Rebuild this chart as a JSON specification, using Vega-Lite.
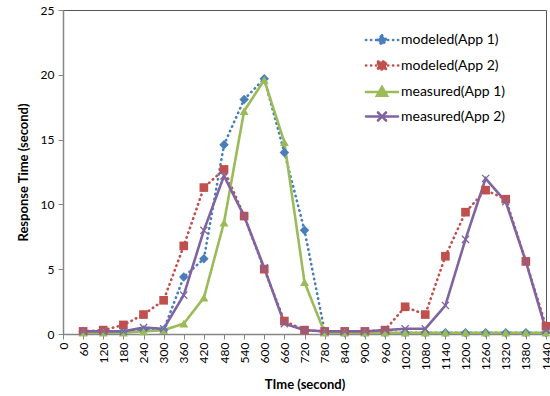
{
  "$schema": "https://vega.github.io/schema/vega-lite/v6.json",
  "autosize": "none",
  "width": 483,
  "height": 324,
  "padding": {"left": 63, "top": 10, "right": 4, "bottom": 62},
  "background": "white",
  "config": {
    "view": {"stroke": "#555555", "strokeWidth": 1},
    "font": "Lato",
    "axis": {
      "grid": false,
      "domainColor": "#868686",
      "domainWidth": 1.5,
      "tickColor": "#868686",
      "tickSize": 5,
      "labelFont": "Lato",
      "labelFontSize": 12,
      "labelColor": "#000000",
      "titleFont": "Lato",
      "titleFontSize": 13,
      "titleFontWeight": "bold",
      "titleColor": "#000000"
    }
  },
  "data": {
    "values": [
      {"t": 60, "series": "modeled(App 1)", "v": 0.2},
      {"t": 120, "series": "modeled(App 1)", "v": 0.2},
      {"t": 180, "series": "modeled(App 1)", "v": 0.2},
      {"t": 240, "series": "modeled(App 1)", "v": 0.3},
      {"t": 300, "series": "modeled(App 1)", "v": 0.3},
      {"t": 360, "series": "modeled(App 1)", "v": 4.4},
      {"t": 420, "series": "modeled(App 1)", "v": 5.8},
      {"t": 480, "series": "modeled(App 1)", "v": 14.6},
      {"t": 540, "series": "modeled(App 1)", "v": 18.1},
      {"t": 600, "series": "modeled(App 1)", "v": 19.7},
      {"t": 660, "series": "modeled(App 1)", "v": 14.0},
      {"t": 720, "series": "modeled(App 1)", "v": 8.0},
      {"t": 780, "series": "modeled(App 1)", "v": 0.2},
      {"t": 840, "series": "modeled(App 1)", "v": 0.1},
      {"t": 900, "series": "modeled(App 1)", "v": 0.1},
      {"t": 960, "series": "modeled(App 1)", "v": 0.1},
      {"t": 1020, "series": "modeled(App 1)", "v": 0.1},
      {"t": 1080, "series": "modeled(App 1)", "v": 0.1},
      {"t": 1140, "series": "modeled(App 1)", "v": 0.1},
      {"t": 1200, "series": "modeled(App 1)", "v": 0.1},
      {"t": 1260, "series": "modeled(App 1)", "v": 0.1},
      {"t": 1320, "series": "modeled(App 1)", "v": 0.1},
      {"t": 1380, "series": "modeled(App 1)", "v": 0.1},
      {"t": 1440, "series": "modeled(App 1)", "v": 0.1},
      {"t": 60, "series": "modeled(App 2)", "v": 0.2},
      {"t": 120, "series": "modeled(App 2)", "v": 0.3},
      {"t": 180, "series": "modeled(App 2)", "v": 0.7},
      {"t": 240, "series": "modeled(App 2)", "v": 1.5},
      {"t": 300, "series": "modeled(App 2)", "v": 2.6},
      {"t": 360, "series": "modeled(App 2)", "v": 6.8},
      {"t": 420, "series": "modeled(App 2)", "v": 11.3},
      {"t": 480, "series": "modeled(App 2)", "v": 12.7},
      {"t": 540, "series": "modeled(App 2)", "v": 9.1},
      {"t": 600, "series": "modeled(App 2)", "v": 5.0},
      {"t": 660, "series": "modeled(App 2)", "v": 1.0},
      {"t": 720, "series": "modeled(App 2)", "v": 0.3},
      {"t": 780, "series": "modeled(App 2)", "v": 0.2},
      {"t": 840, "series": "modeled(App 2)", "v": 0.2},
      {"t": 900, "series": "modeled(App 2)", "v": 0.2},
      {"t": 960, "series": "modeled(App 2)", "v": 0.3},
      {"t": 1020, "series": "modeled(App 2)", "v": 2.1},
      {"t": 1080, "series": "modeled(App 2)", "v": 1.5},
      {"t": 1140, "series": "modeled(App 2)", "v": 6.0},
      {"t": 1200, "series": "modeled(App 2)", "v": 9.4},
      {"t": 1260, "series": "modeled(App 2)", "v": 11.1},
      {"t": 1320, "series": "modeled(App 2)", "v": 10.4},
      {"t": 1380, "series": "modeled(App 2)", "v": 5.6},
      {"t": 1440, "series": "modeled(App 2)", "v": 0.6},
      {"t": 60, "series": "measured(App 1)", "v": 0.1},
      {"t": 120, "series": "measured(App 1)", "v": 0.1},
      {"t": 180, "series": "measured(App 1)", "v": 0.1},
      {"t": 240, "series": "measured(App 1)", "v": 0.2},
      {"t": 300, "series": "measured(App 1)", "v": 0.3},
      {"t": 360, "series": "measured(App 1)", "v": 0.8},
      {"t": 420, "series": "measured(App 1)", "v": 2.8},
      {"t": 480, "series": "measured(App 1)", "v": 8.6},
      {"t": 540, "series": "measured(App 1)", "v": 17.2},
      {"t": 600, "series": "measured(App 1)", "v": 19.6},
      {"t": 660, "series": "measured(App 1)", "v": 14.8},
      {"t": 720, "series": "measured(App 1)", "v": 4.0},
      {"t": 780, "series": "measured(App 1)", "v": 0.1},
      {"t": 840, "series": "measured(App 1)", "v": 0.1},
      {"t": 900, "series": "measured(App 1)", "v": 0.1},
      {"t": 960, "series": "measured(App 1)", "v": 0.1},
      {"t": 1020, "series": "measured(App 1)", "v": 0.1},
      {"t": 1080, "series": "measured(App 1)", "v": 0.1},
      {"t": 1140, "series": "measured(App 1)", "v": 0.1},
      {"t": 1200, "series": "measured(App 1)", "v": 0.1},
      {"t": 1260, "series": "measured(App 1)", "v": 0.1},
      {"t": 1320, "series": "measured(App 1)", "v": 0.1},
      {"t": 1380, "series": "measured(App 1)", "v": 0.1},
      {"t": 1440, "series": "measured(App 1)", "v": 0.1},
      {"t": 60, "series": "measured(App 2)", "v": 0.2},
      {"t": 120, "series": "measured(App 2)", "v": 0.2},
      {"t": 180, "series": "measured(App 2)", "v": 0.2},
      {"t": 240, "series": "measured(App 2)", "v": 0.5},
      {"t": 300, "series": "measured(App 2)", "v": 0.4},
      {"t": 360, "series": "measured(App 2)", "v": 3.0},
      {"t": 420, "series": "measured(App 2)", "v": 8.0},
      {"t": 480, "series": "measured(App 2)", "v": 12.2},
      {"t": 540, "series": "measured(App 2)", "v": 9.1},
      {"t": 600, "series": "measured(App 2)", "v": 5.1},
      {"t": 660, "series": "measured(App 2)", "v": 0.8},
      {"t": 720, "series": "measured(App 2)", "v": 0.3},
      {"t": 780, "series": "measured(App 2)", "v": 0.2},
      {"t": 840, "series": "measured(App 2)", "v": 0.2},
      {"t": 900, "series": "measured(App 2)", "v": 0.2},
      {"t": 960, "series": "measured(App 2)", "v": 0.3},
      {"t": 1020, "series": "measured(App 2)", "v": 0.4},
      {"t": 1080, "series": "measured(App 2)", "v": 0.4},
      {"t": 1140, "series": "measured(App 2)", "v": 2.2},
      {"t": 1200, "series": "measured(App 2)", "v": 7.3},
      {"t": 1260, "series": "measured(App 2)", "v": 12.0},
      {"t": 1320, "series": "measured(App 2)", "v": 10.2},
      {"t": 1380, "series": "measured(App 2)", "v": 5.6},
      {"t": 1440, "series": "measured(App 2)", "v": 0.3}
    ]
  },
  "encoding": {
    "x": {
      "field": "t",
      "type": "quantitative",
      "scale": {"domain": [0, 1440], "nice": false, "zero": false},
      "axis": {
        "title": "TIme (second)",
        "format": "d",
        "values": [0, 60, 120, 180, 240, 300, 360, 420, 480, 540, 600, 660, 720, 780, 840, 900, 960, 1020, 1080, 1140, 1200, 1260, 1320, 1380, 1440],
        "labelAngle": -90,
        "labelOverlap": false,
        "labelBound": false,
        "labelFlush": false,
        "labelPadding": 3,
        "titlePadding": 9
      }
    },
    "y": {
      "field": "v",
      "type": "quantitative",
      "scale": {"domain": [0, 25], "nice": false},
      "axis": {
        "title": "Response Time (second)",
        "values": [0, 5, 10, 15, 20, 25],
        "labelPadding": 4,
        "titlePadding": 10,
        "labelFlush": false
      }
    }
  },
  "layer": [
    {
      "mark": {"type": "line", "strokeCap": "round", "strokeWidth": 2.6},
      "encoding": {
        "color": {
          "field": "series",
          "type": "nominal",
          "sort": ["modeled(App 1)", "modeled(App 2)", "measured(App 1)", "measured(App 2)"],
          "scale": {
            "domain": ["modeled(App 1)", "modeled(App 2)", "measured(App 1)", "measured(App 2)"],
            "range": ["#4A7EBB", "#C0504D", "#9BBB59", "#8064A2"]
          },
          "legend": {
            "title": null,
            "orient": "none",
            "legendX": 327,
            "legendY": 23,
            "padding": 0,
            "rowPadding": 5.5,
            "labelFont": "Lato",
            "labelFontSize": 14,
            "labelColor": "#000000",
            "labelOffset": -3,
            "symbolSize": 100,
            "encode": {
              "symbols": {
                "update": {
                  "shape": {"signal": "datum.value === 'modeled(App 1)' ? 'M-6.2,0L-6.15,0M-5.2,0L-5.15,0M-4.2,0L-4.15,0M-1.8,0L-1.75,0M-0.8,0L-0.75,0M0.2,0L0.25,0M-3,-0.95L-2.05,0L-3,0.95L-3.95,0Z' : datum.value === 'modeled(App 2)' ? 'M-6.2,0L-6.15,0M-5.2,0L-5.15,0M-4.2,0L-4.15,0M-1.8,0L-1.75,0M-0.8,0L-0.75,0M0.2,0L0.25,0M-3.8,-0.8L-2.2,-0.8L-2.2,0.8L-3.8,0.8Z' : datum.value === 'measured(App 1)' ? 'M-6.2,0L0.2,0M-3,-1L-2,0.75L-4,0.75Z' : 'M-6.2,0L0.2,0M-3.8,-0.8L-2.2,0.8M-3.8,0.8L-2.2,-0.8'"},
                  "fill": {"signal": "scale('color', datum.value)"},
                  "stroke": {"signal": "scale('color', datum.value)"},
                  "strokeWidth": {"value": 2.6},
                  "strokeCap": {"value": "round"},
                  "strokeDash": {"value": [1, 0]},
                  "opacity": {"value": 1}
                }
              }
            }
          }
        },
        "strokeDash": {
          "field": "series",
          "type": "nominal",
          "scale": {
            "domain": ["modeled(App 1)", "modeled(App 2)", "measured(App 1)", "measured(App 2)"],
            "range": [[0.5, 4.5], [0.5, 4.5], [1, 0], [1, 0]]
          },
          "legend": null
        }
      }
    },
    {
      "transform": [{"filter": "datum.series === 'modeled(App 1)'"}],
      "mark": {"type": "point", "shape": "diamond", "filled": true, "opacity": 1, "size": 90, "color": "#4A7EBB"}
    },
    {
      "transform": [{"filter": "datum.series === 'modeled(App 2)'"}],
      "mark": {"type": "point", "shape": "square", "filled": true, "opacity": 1, "size": 75, "color": "#C0504D"}
    },
    {
      "transform": [{"filter": "datum.series === 'measured(App 1)'"}],
      "mark": {"type": "point", "shape": "triangle-up", "filled": true, "opacity": 1, "size": 80, "color": "#9BBB59"}
    },
    {
      "transform": [{"filter": "datum.series === 'measured(App 2)'"}],
      "mark": {"type": "point", "shape": "M-0.8,-0.8L0.8,0.8M-0.8,0.8L0.8,-0.8", "filled": false, "opacity": 1, "strokeWidth": 1.3, "size": 80, "color": "#8064A2"}
    }
  ]
}
